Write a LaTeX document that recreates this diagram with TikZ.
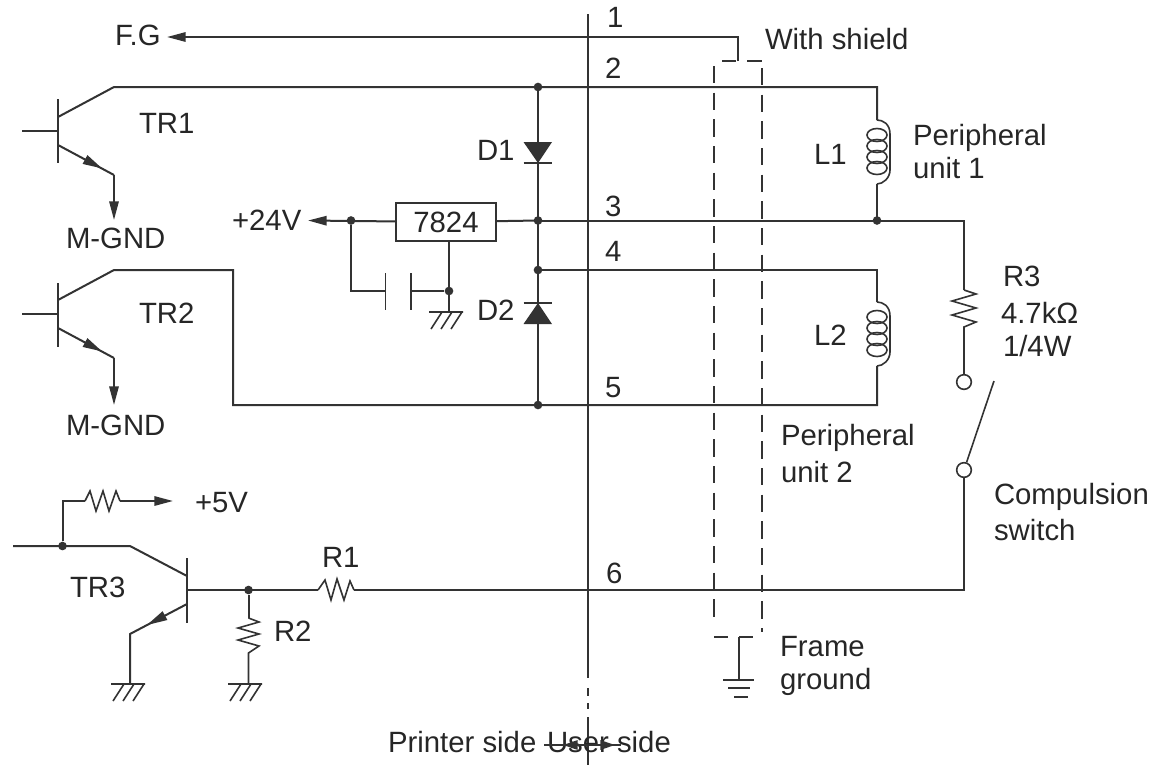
\documentclass[tikz,border=0pt]{standalone}
\usepackage{fontspec}
\setmainfont{Liberation Sans}
\usetikzlibrary{arrows.meta,calc}
\definecolor{ink}{gray}{0.2}
\tikzset{
  wire/.style={draw=ink,line width=1.5pt,line join=miter},
  thin wire/.style={draw=ink,line width=1.2pt},
  sig/.style={wire,-{Triangle[length=14pt,width=7pt]}},
  shield/.style={draw=ink,line width=1.2pt,dash pattern=on 13pt off 7pt},
  lbl/.style={anchor=base west,inner sep=0pt,outer sep=0pt,text=black!85,font=\fontsize{22}{24}\selectfont},
  dotn/.style={circle,fill=ink,draw=none,minimum size=6.5pt,inner sep=0pt},
  openc/.style={circle,draw=ink,line width=1.2pt,fill=white,minimum size=11pt,inner sep=0pt},
  boxn/.style={draw=ink,line width=1.2pt,fill=white,minimum width=75pt,minimum height=28.5pt,inner sep=0pt,font=\fontsize{22}{24}\selectfont,text=black!85},
  gnd/.pic={\draw[thin wire] (-17,0)--(17,0) (-4,0)--(-15,17) (6,0)--(-5,17) (16,0)--(5,17);},
  coil/.pic={\draw[thin wire] (0,0) .. controls (6,0) and (13,4) .. (13,14) -- (13,50) .. controls (13,58) and (6,64) .. (0,64);
     \foreach \cy in {15,26,37,48} {\draw[thin wire] (0,\cy) ellipse [x radius=10,y radius=6.5];}},
}
\begin{document}
\begin{tikzpicture}[x=0.75pt,y=-0.75pt]
\useasboundingbox (0,0) rectangle (1154,765);
% coordinates
\coordinate (j2) at (538,87);
\coordinate (j3) at (538,220.5);
\coordinate (j4) at (538,270);
\coordinate (j5) at (538,405);
\coordinate (c2) at (877,87);
\coordinate (c3) at (877,220.5);
\coordinate (c4) at (877,270);
\coordinate (c5) at (877,405);
% divider
\draw[wire] (588,14) -- (588,678);
\draw[wire] (588,688) -- (588,696) (588,703)--(588,709) (588,717) -- (588,765);
% shield
\draw[shield] (714,66) -- (714,624);
\draw[shield] (762,68) -- (762,632);
\draw[thin wire] (722,61) -- (736,61) (747,61) -- (762,61) (714,637)--(728,637) (739,637)--(753,637);
% FG
\node[lbl] (fg) at (115,45) {F.G};
\coordinate (sh1) at (738,61);
\draw[sig] (sh1) |- (167,37);
% TR1
\draw[wire] (58,99) -- (58,163) (22,131) -- (58,131);
\draw[wire] (58,117) -- (114,87) -- (j2) -- (c2) -- (877,120);
\draw[wire] (58,145) -- (114,175);
\draw[sig] (114,175) -- (114,220);
\fill[ink] (102,168.4) -- (87.4,155.1) -- (82.6,163.9) -- cycle;
% coil 1
\pic at (877,120) {coil};
\draw[wire] (877,184) -- (c3);
% 3
\node[boxn] (reg) at (446,222) {7824};
\draw[wire] (reg) -- (j3);
\draw[wire] (j3) -- (c3) -- (964,220.5) -- (964,290);
\node[dotn] at (c3) (dc3) {};
\draw[sig] (reg) -- (308,220.5);
\node[dotn] (d24) at (351,220.5) {};
\draw[thin wire] (d24) |- (385,291);
\draw[thin wire] (385.5,273) -- (385.5,310) (411,273) -- (411,310);
\coordinate (rg) at (449,241);
\node[dotn] (dg) at (449,291) {};
\draw[thin wire] (411,291) -- (dg) (rg) -- (449,312);
\pic at (446,312) {gnd};
% diodes and rail
\draw[wire] (j2) -- (j5);
\fill[ink] (523.5,142) -- (552,142) -- (538,163) -- cycle;
\draw[wire] (523.5,163) -- (552,163);
\fill[ink] (523.5,324) -- (552,324) -- (538,303) -- cycle;
\draw[wire] (523.5,303) -- (552,303);
\node[dotn] (dj2) at (j2) {};
\node[dotn] (dj3) at (j3) {};
\node[dotn] (dj4) at (j4) {};
\node[dotn] (dj5) at (j5) {};
% 4 5
\draw[wire] (j4) -- (c4) -- (877,302);
\pic at (877,302) {coil};
\draw[wire] (877,366) -- (c5) -- (233,405) -- (233,270) -- (114,270) -- (58,300);
% TR2
\draw[wire] (58,283) -- (58,347) (22,314) -- (58,314);
\draw[wire] (58,328) -- (114,358);
\draw[sig] (114,358) -- (114,405);
\fill[ink] (102,351.4) -- (87.4,338.1) -- (82.6,346.9) -- cycle;
% R3
\draw[thin wire] (964,290) -- (976,294) -- (952,301) -- (976,308) -- (952,315) -- (976,322) -- (964,327) -- (964,375);
\node[openc] (sw1) at (964,382) {};
\node[openc] (sw2) at (964,470) {};
\coordinate (swt) at (994,381);
\draw[thin wire] (sw2) -- (swt);
% wire 6
\draw[wire] (sw2) |- (354,590);
\draw[thin wire] (354,590) -- (350,581) -- (344,600) -- (337,579) -- (331,600) -- (325,580) -- (318,590);
\draw[wire] (318,590) -- (187,590);
\draw[wire] (187,558) -- (187,623);
\node[dotn] (dr2) at (248.5,590) {};
\draw[wire] (dr2) -- (248.5,618);
\draw[thin wire] (248.5,618) -- (259,622) -- (238,628) -- (259,634) -- (238,640) -- (259,646) -- (248.5,653) -- (248.5,684);
\pic at (245,684) {gnd};
% TR3
\draw[wire] (13,546) -- (130,546) -- (187,576);
\draw[wire] (187,604) -- (130,634) -- (130,684);
\fill[ink] (147,625) -- (167.4,620) -- (162.6,611.2) -- cycle;
\pic at (128,684) {gnd};
\node[dotn] (di) at (62.5,546) {};
\draw[wire] (di) |- (85,501);
\draw[thin wire] (85,501) -- (90,491) -- (96,511) -- (103,491) -- (109,511) -- (116,491) -- (120,501);
\draw[sig] (120,501) -- (173,501);
% frame ground
\draw[thin wire] (739,637) -- (739,680) (723,680) -- (754,680) (728,688) -- (750,688) (734,697) -- (748,697);
% labels
\node[lbl] (n1) at (607,27) {1};
\node[lbl] (n2) at (605,78) {2};
\node[lbl] (n3) at (605,216) {3};
\node[lbl] (n4) at (605,261) {4};
\node[lbl] (n5) at (605,397) {5};
\node[lbl] (n6) at (606,583) {6};
\node[lbl] (tr1) at (139,133) {TR1};
\node[lbl] (tr2) at (139,323) {TR2};
\node[lbl] (tr3) at (70,597) {TR3};
\node[lbl] (mg1) at (66,248) {M-GND};
\node[lbl] (mg2) at (66,435) {M-GND};
\node[lbl] (d1) at (477,160) {D1};
\node[lbl] (d2) at (477,320) {D2};
\node[lbl] (v24) at (232,230) {+24V};
\node[lbl] (v5) at (195,512) {+5V};
\node[lbl] (r1) at (322,567) {R1};
\node[lbl] (r2) at (274,641) {R2};
\node[lbl] (ws) at (765,49) {With shield};
\node[lbl] (l1) at (814,164) {L1};
\node[lbl] (l2) at (814,345) {L2};
\node[lbl] (p1a) at (913,145) {Peripheral};
\node[lbl] (p1b) at (913,178) {unit 1};
\node[lbl] (p2a) at (781,445) {Peripheral};
\node[lbl] (p2b) at (781,482) {unit 2};
\node[lbl] (r3) at (1003,286) {R3};
\node[lbl] (r3v) at (1001,323) {4.7kΩ};
\node[lbl] (r3w) at (1003,356) {1/4W};
\node[lbl] (cs1) at (994,504) {Compulsion};
\node[lbl] (cs2) at (994,540) {switch};
\node[lbl] (fr1) at (780,656) {Frame};
\node[lbl] (fr2) at (780,689) {ground};
\node[lbl] (ps) at (388,752) {Printer side};
\node[lbl] (us) at (547,752) {User side};
\coordinate (al) at (544,745);
\coordinate (ar) at (621,745);
\draw[wire,{Triangle[length=11pt,width=7pt]}-{Triangle[length=11pt,width=7pt]}] (563,745) -- (615,745);
\draw[wire] (al) -- (ar);
\end{tikzpicture}
\end{document}
